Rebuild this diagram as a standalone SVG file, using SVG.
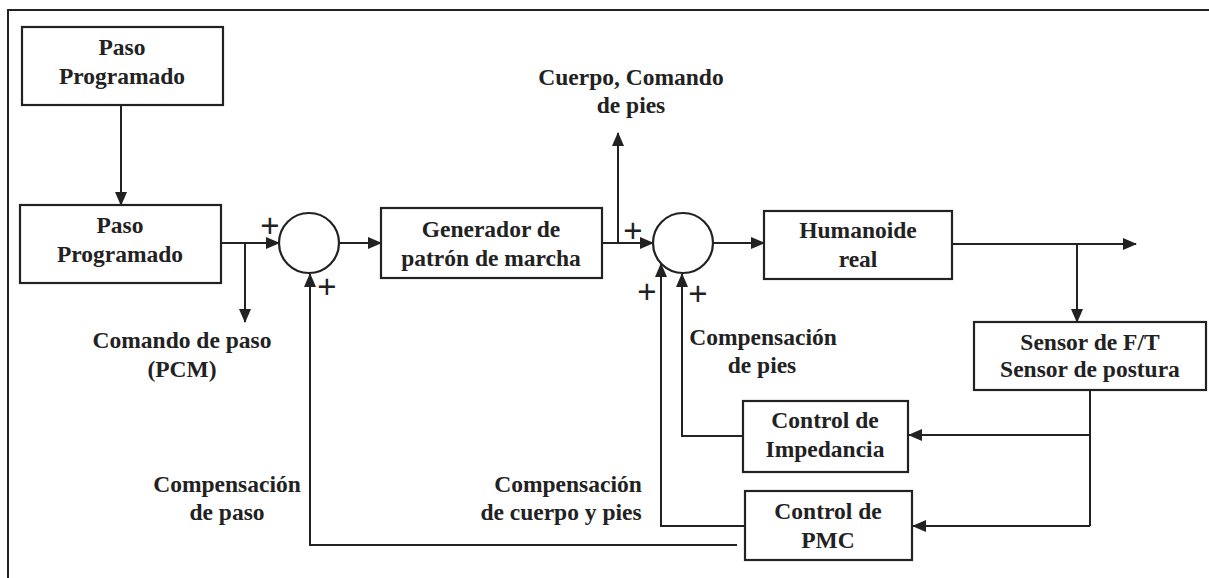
<svg xmlns="http://www.w3.org/2000/svg" width="1209" height="578" viewBox="0 0 1209 578">
<style>
.box{fill:#fff;stroke:#222;stroke-width:2.2}
.ln{fill:none;stroke:#222;stroke-width:2}
.t{font-family:'Liberation Serif',Tinos,'Times New Roman','DejaVu Serif',serif;font-weight:700;font-size:23.5px;fill:#222;text-anchor:middle}
.p{font-family:'Liberation Sans',Arial,sans-serif;font-size:33px;fill:#222;text-anchor:middle}
</style>
<defs>
<marker id="ah" markerWidth="14" markerHeight="12" refX="13" refY="6" orient="auto" markerUnits="userSpaceOnUse">
<path d="M0,0 L14,6 L0,12 Z" fill="#222"/>
</marker>
</defs>
<rect x="0" y="0" width="1209" height="578" fill="#fff"/>
<g id="frame"><path class="ln" d="M8,578 L8,10 L1209,10"/></g>

<g id="connectors">
<path class="ln" d="M121,105 L121,205" marker-end="url(#ah)"/>
<path class="ln" d="M221,243 L279,243" marker-end="url(#ah)"/>
<path class="ln" d="M245,243 L245,322" marker-end="url(#ah)"/>
<path class="ln" d="M339,243 L381,243" marker-end="url(#ah)"/>
<path class="ln" d="M602,243 L653,243" marker-end="url(#ah)"/>
<path class="ln" d="M618,243 L618,133" marker-end="url(#ah)"/>
<path class="ln" d="M713,243 L764,243" marker-end="url(#ah)"/>
<path class="ln" d="M952,244 L1136,244" marker-end="url(#ah)"/>
<path class="ln" d="M1077,244 L1077,322" marker-end="url(#ah)"/>
<path class="ln" d="M1090,390 L1090,526"/>
<path class="ln" d="M1090,435 L909,435" marker-end="url(#ah)"/>
<path class="ln" d="M1090,526 L913,526" marker-end="url(#ah)"/>
<path class="ln" d="M743,436 L682,436 L682,274" marker-end="url(#ah)"/>
<path class="ln" d="M745,526 L661,526 L661,264" marker-end="url(#ah)"/>
<path class="ln" d="M737,545 L310,545 L310,274" marker-end="url(#ah)"/>
</g>

<g id="paso1"><rect class="box" x="22" y="27" width="201" height="78"/>
<text class="t" x="122" y="55">Paso</text><text class="t" x="122" y="84">Programado</text></g>
<g id="paso2"><rect class="box" x="20" y="205" width="201" height="78"/>
<text class="t" x="120" y="233">Paso</text><text class="t" x="120" y="262">Programado</text></g>
<g id="sum1"><circle class="box" cx="309" cy="243" r="30"/></g>
<g id="generador"><rect class="box" x="381" y="208" width="221" height="70"/>
<text class="t" x="491" y="237">Generador de</text><text class="t" x="491" y="266">patrón de marcha</text></g>
<g id="sum2"><circle class="box" cx="683" cy="243" r="30"/></g>
<g id="humanoide"><rect class="box" x="764" y="211" width="188" height="68"/>
<text class="t" x="858" y="238">Humanoide</text><text class="t" x="858" y="267">real</text></g>
<g id="sensor"><rect class="box" x="974" y="322" width="232" height="68"/>
<text class="t" x="1090" y="350">Sensor de F/T</text><text class="t" x="1090" y="377">Sensor de postura</text></g>
<g id="impedancia"><rect class="box" x="743" y="401" width="165" height="71"/>
<text class="t" x="825" y="428">Control de</text><text class="t" x="825" y="457">Impedancia</text></g>
<g id="pmc"><rect class="box" x="745" y="491" width="167" height="69"/>
<text class="t" x="828" y="519">Control de</text><text class="t" x="828" y="548">PMC</text></g>

<g id="labels">
<text class="t" x="631" y="85">Cuerpo, Comando</text><text class="t" x="631" y="113">de pies</text>
<text class="t" x="182" y="348">Comando de paso</text><text class="t" x="182" y="377">(PCM)</text>
<text class="t" x="763" y="345">Compensación</text><text class="t" x="762" y="373">de pies</text>
<text class="t" x="227" y="492">Compensación</text><text class="t" x="227" y="520">de paso</text>
<text class="t" x="568" y="492">Compensación</text><text class="t" x="561" y="520">de cuerpo y pies</text>
</g>
<g id="signs">
<text class="p" x="270" y="237">+</text>
<text class="p" x="327" y="298">+</text>
<text class="p" x="633" y="242">+</text>
<text class="p" x="647" y="303">+</text>
<text class="p" x="698" y="305">+</text>
</g>
</svg>
